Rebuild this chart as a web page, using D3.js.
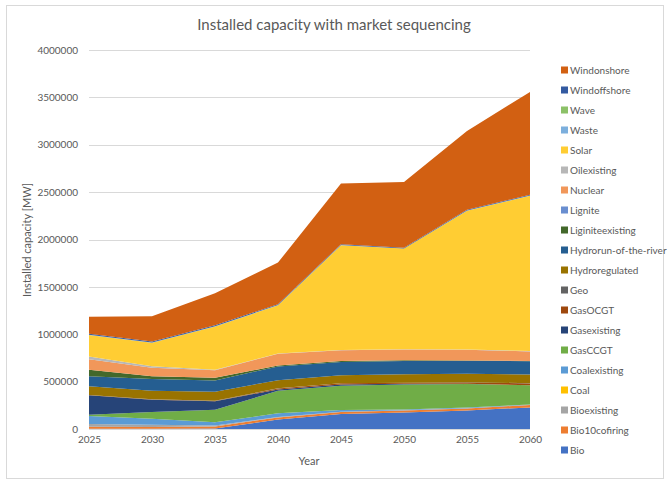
<!DOCTYPE html>
<html>
<head>
<meta charset="utf-8">
<script src="https://cdn.jsdelivr.net/npm/d3@7"></script>
<style>
  html, body { margin: 0; padding: 0; background: #fff; }
  svg { display: block; font-family: Lato, "Open Sans", sans-serif; }
</style>
</head>
<body>
<svg id="chart" width="670" height="481"></svg>
<script>
// ---- data (MW) ----
const years = [2025, 2030, 2035, 2040, 2045, 2050, 2055, 2060];
const seriesNames = ["Bio","Bio10cofiring","Bioexisting","Coal","Coalexisting","GasCCGT","Gasexisting","GasOCGT","Geo","Hydroregulated","Hydrorun-of-the-river","Liginiteexisting","Lignite","Nuclear","Oilexisting","Solar","Waste","Wave","Windoffshore","Windonshore"];
const seriesColors = ["#4472C4","#ED7D31","#A5A5A5","#FFC000","#5B9BD5","#70AD47","#264478","#9E480E","#636363","#997300","#255E91","#43682B","#698ED0","#F1975A","#B7B7B7","#FFCD33","#7CAFDD","#8CC168","#335AA1","#D26012"];
const Bio              = [2000, 3000, 5000, 100000, 158000, 175000, 196000, 228000];
const Bio10cofiring    = [22000, 18000, 22000, 22000, 21000, 21000, 21000, 25000];
const Bioexisting      = [28000, 25000, 10000, 5000, 3000, 3000, 3000, 2000];
const Coal             = [0, 0, 0, 0, 0, 0, 0, 0];
const Coalexisting     = [85000, 63000, 35000, 38000, 18000, 8000, 7000, 3000];
const GasCCGT          = [14000, 70000, 130000, 238000, 256000, 263000, 249000, 203000];
const Gasexisting      = [204000, 130000, 91000, 14000, 14000, 7000, 2000, 2000];
const GasOCGT          = [3000, 3000, 3000, 10000, 12000, 10000, 14000, 18000];
const Geo              = [2000, 2000, 2000, 2000, 2000, 2000, 2000, 2000];
const Hydroregulated   = [92000, 90000, 96000, 86000, 84000, 90000, 89000, 93000];
const Hydrorun         = [104000, 124000, 119000, 145000, 140000, 140000, 136000, 140000];
const Liginiteexisting = [70000, 28000, 28000, 10000, 10000, 7000, 5000, 3000];
const Lignite          = [0, 0, 0, 0, 0, 0, 0, 0];
const Nuclear          = [110000, 91000, 78000, 124000, 114000, 112000, 112000, 100000];
const Oilexisting      = [30000, 14000, 7000, 3000, 3000, 3000, 3000, 3000];
const Solar            = [225000, 250000, 455000, 510000, 1105000, 1063000, 1465000, 1640000];
const Waste            = [3000, 3000, 3000, 2000, 2000, 2000, 2000, 2000];
const Wave             = [0, 0, 0, 0, 0, 0, 0, 0];
const Windoffshore     = [10000, 10000, 10000, 8000, 8000, 8000, 8000, 8000];
const Windonshore      = [181000, 267000, 340000, 440000, 640000, 692000, 832000, 1085000];
const yTicks = [0, 500000, 1000000, 1500000, 2000000, 2500000, 3000000, 3500000, 4000000];

const seriesValues = [Bio, Bio10cofiring, Bioexisting, Coal, Coalexisting, GasCCGT, Gasexisting, GasOCGT, Geo, Hydroregulated, Hydrorun, Liginiteexisting, Lignite, Nuclear, Oilexisting, Solar, Waste, Wave, Windoffshore, Windonshore];

const table = years.map((yr, i) => {
  const row = { year: yr };
  seriesNames.forEach((n, k) => row[n] = seriesValues[k][i]);
  return row;
});

const svg = d3.select("#chart");
const textColor = "#595959";

// chart frame
svg.append("rect").attr("x", 6.5).attr("y", 5.5).attr("width", 657).attr("height", 473)
  .attr("fill", "#fff").attr("stroke", "#D9D9D9");

const x = d3.scaleLinear().domain([2025, 2060]).range([89, 530]);
const y = d3.scaleLinear().domain([0, 4000000]).range([429, 50]);

// gridlines
svg.append("g").selectAll("line").data(yTicks).join("line")
  .attr("x1", 89).attr("x2", 530)
  .attr("y1", d => Math.round(y(d)) + 0.5).attr("y2", d => Math.round(y(d)) + 0.5)
  .attr("stroke", "#D9D9D9").attr("stroke-width", 1);

// stacked areas
const stack = d3.stack().keys(seriesNames);
const layers = stack(table);
const area = d3.area()
  .x(d => x(d.data.year))
  .y0(d => y(d[0]))
  .y1(d => y(d[1]));
svg.append("g").selectAll("path").data(layers).join("path")
  .attr("d", area)
  .attr("fill", (d, i) => seriesColors[i]);

// x axis line
svg.append("line").attr("x1", 89).attr("x2", 530).attr("y1", 429.5).attr("y2", 429.5)
  .attr("stroke", "#D9D9D9");

// y tick labels
const yAxis = d3.axisLeft(y).tickValues(yTicks).tickFormat(d3.format("d")).tickSize(0).tickPadding(0);
const gy = svg.append("g").attr("transform", "translate(78,0)").call(yAxis);
gy.select(".domain").remove();
gy.selectAll("text").attr("fill", textColor).style("font-size", "10px").style("font-family", "Lato, 'Open Sans', sans-serif");

// x tick labels
const xAxis = d3.axisBottom(x).tickValues(years).tickFormat(d3.format("d")).tickSize(0).tickPadding(0);
const gx = svg.append("g").attr("transform", "translate(0,436)").call(xAxis);
gx.select(".domain").remove();
gx.selectAll("text").attr("fill", textColor).style("font-size", "10px").style("font-family", "Lato, 'Open Sans', sans-serif");

// title
svg.append("text").attr("x", 334).attr("y", 30).attr("text-anchor", "middle")
  .attr("fill", textColor).style("font-size", "15px").text("Installed capacity with market sequencing");

// axis titles
svg.append("text").attr("x", 309).attr("y", 465).attr("text-anchor", "middle")
  .attr("fill", textColor).style("font-size", "11px").text("Year");
svg.append("text").attr("transform", "translate(31,240) rotate(-90)").attr("text-anchor", "middle")
  .attr("fill", textColor).style("font-size", "11px").text("Installed capacity [MW]");

// legend (reverse order)
const legendItems = seriesNames.map((n, i) => ({ name: n, color: seriesColors[i] })).reverse();
const lg = svg.append("g").selectAll("g").data(legendItems).join("g")
  .attr("transform", (d, i) => `translate(561,${70 + i * 20})`);
lg.append("rect").attr("x", 0).attr("y", -3.5).attr("width", 7).attr("height", 7).attr("fill", d => d.color);
lg.append("text").attr("x", 9).attr("y", 0).attr("dy", "0.35em")
  .attr("fill", textColor).style("font-size", "10px").text(d => d.name);
</script>
</body>
</html>
